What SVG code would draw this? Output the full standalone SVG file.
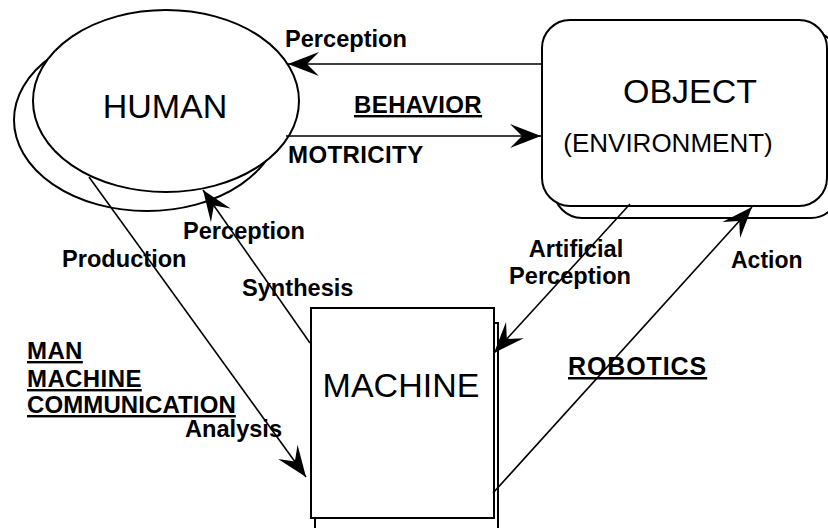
<svg xmlns="http://www.w3.org/2000/svg" width="828" height="528" viewBox="0 0 828 528">
<style>
.shape{fill:#fff;stroke:#000;stroke-width:2}
.big{font-family:"Liberation Sans",Arial,sans-serif;font-size:34px;fill:#000}
.mid{font-family:"Liberation Sans",Arial,sans-serif;font-size:26px;fill:#000}
.lbl{font-family:"Liberation Sans",Arial,sans-serif;font-size:23.6px;font-weight:bold;fill:#000}
.cap{font-size:24px;letter-spacing:0.4px}
.ul{text-decoration:underline}
.conn{fill:none;stroke:#000;stroke-width:1.6}
</style>
<defs>
<marker id="arr" viewBox="-33 -13 34 26" refX="0" refY="0" markerWidth="34" markerHeight="26" markerUnits="userSpaceOnUse" orient="auto">
<path d="M0,0 L-31,-12 L-19,0 L-31,12 Z" fill="#000"/>
</marker>
</defs>
<rect width="828" height="528" fill="#fff"/>
<g id="human">
<ellipse class="shape" cx="147" cy="120" rx="133" ry="91"/>
<ellipse class="shape" cx="166" cy="101" rx="133" ry="91"/>
<text class="big" x="165" y="118" text-anchor="middle">HUMAN</text>
</g>
<g id="object">
<rect class="shape" x="554" y="32" width="285" height="186" rx="28" ry="28"/>
<rect class="shape" x="542" y="20" width="285" height="186" rx="28" ry="28"/>
<text class="big" x="690" y="103" text-anchor="middle">OBJECT</text>
<text class="mid" x="668" y="152" text-anchor="middle">(ENVIRONMENT)</text>
</g>
<g id="machine">
<rect class="shape" x="315" y="323" width="183" height="215"/>
<rect class="shape" x="311" y="308" width="183" height="210"/>
<text class="big" x="401" y="397" text-anchor="middle">MACHINE</text>
</g>
<g id="connectors">
<line class="conn" x1="542" y1="64" x2="288" y2="64" marker-end="url(#arr)"/>
<line class="conn" x1="286" y1="136" x2="541" y2="136" marker-end="url(#arr)"/>
<line class="conn" x1="89" y1="177" x2="306" y2="477" marker-end="url(#arr)"/>
<line class="conn" x1="310" y1="343" x2="203" y2="190" marker-end="url(#arr)"/>
<line class="conn" x1="630" y1="204" x2="494" y2="353" marker-end="url(#arr)"/>
<line class="conn" x1="493" y1="493" x2="752" y2="207" marker-end="url(#arr)"/>
</g>
<g id="labels">
<text class="lbl" x="285" y="47">Perception</text>
<text class="lbl cap ul" x="354" y="113">BEHAVIOR</text>
<text class="lbl cap" x="288" y="163">MOTRICITY</text>
<text class="lbl" x="183" y="239">Perception</text>
<text class="lbl" x="62" y="267">Production</text>
<text class="lbl" x="242" y="296">Synthesis</text>
<text class="lbl cap ul" x="27" y="359">MAN</text>
<text class="lbl cap ul" x="27" y="387">MACHINE</text>
<text class="lbl ul" x="27" y="413" style="font-size:24px;letter-spacing:0.1px">COMMUNICATION</text>
<text class="lbl" x="185" y="437">Analysis</text>
<text class="lbl" x="576" y="257" text-anchor="middle">Artificial</text>
<text class="lbl" x="570" y="284" text-anchor="middle">Perception</text>
<text class="lbl" x="731" y="268" style="font-size:23px">Action</text>
<text class="lbl ul" x="568" y="375" style="font-size:25px;letter-spacing:0.9px">ROBOTICS</text>
</g>
</svg>
